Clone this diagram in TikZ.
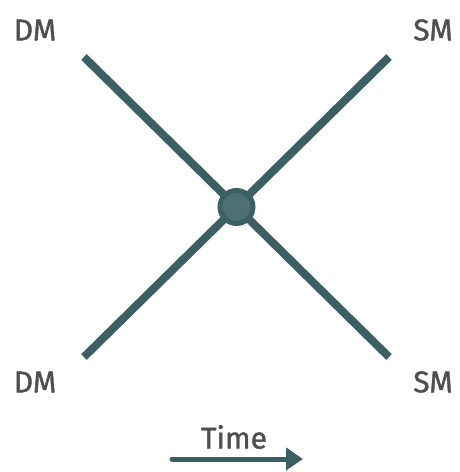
\documentclass[tikz,border=0pt]{standalone}
\usepackage{fontspec}
\setmainfont{Fira Sans}
\newfontfamily\lblfont[FakeBold=1.3]{Fira Sans}
\usetikzlibrary{arrows.meta}
\definecolor{teal}{HTML}{3B6064}
\definecolor{tealin}{HTML}{4C7074}
\definecolor{txt}{HTML}{4F4F4F}
\begin{document}
\begin{tikzpicture}[x=1pt,y=-1pt,
  lbl/.style={text=txt,font=\lblfont\fontsize{30}{32}\selectfont,inner sep=0pt},
  bar/.style={draw=teal,line width=8pt}]
\useasboundingbox (0,0) rectangle (459,472);
\node[lbl] (dm1) at (35,30) {DM};
\node[lbl] (sm1) at (433,30) {SM};
\node[lbl] (dm2) at (35,382) {DM};
\node[lbl] (sm2) at (433,382) {SM};
\coordinate (a1) at (84,57);
\coordinate (a2) at (389,357);
\coordinate (b1) at (84,357);
\coordinate (b2) at (389,57);
\draw[bar] (a1) -- (a2);
\draw[bar] (b1) -- (b2);
\node[circle,draw=teal,fill=tealin,line width=5pt,minimum size=33pt,inner sep=0pt] (c) at (236.5,207) {};
\node[lbl] (time) at (234,437) {Time};
\coordinate (t1) at (172,459);
\coordinate (t2) at (303,459);
\draw[draw=teal,line width=5pt,line cap=round,-{Triangle[length=17pt,width=22pt]}] (t1) -- (t2);
\end{tikzpicture}
\end{document}
